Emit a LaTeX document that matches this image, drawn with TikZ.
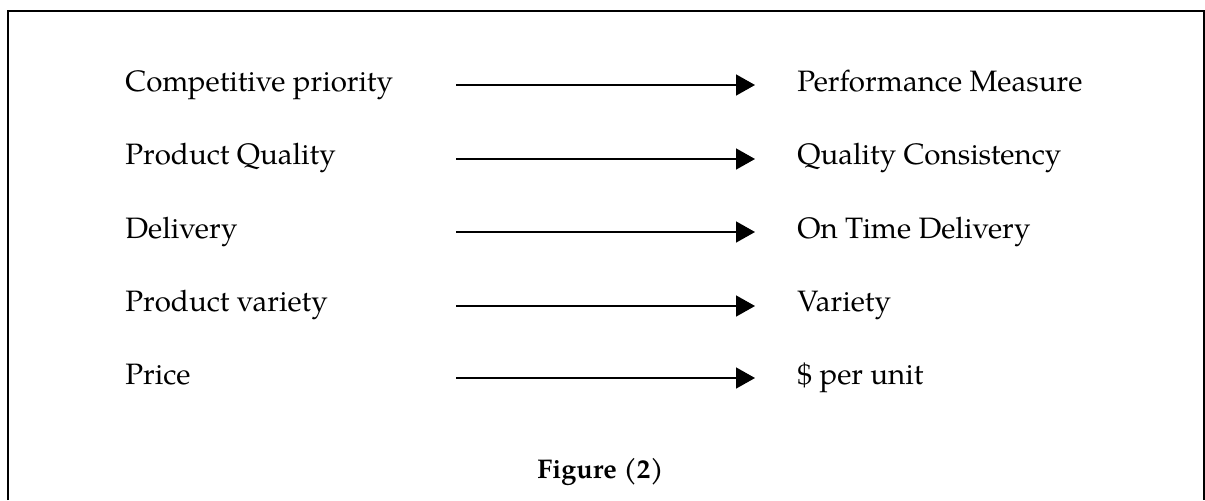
\documentclass[tikz,border=0pt]{standalone}
\usepackage{fontspec}
\setmainfont{TeX Gyre Pagella}
\usetikzlibrary{arrows.meta}

\begin{document}
\begin{tikzpicture}[x=0.5pt, y=0.5pt,
    every node/.style={inner sep=0pt, font=\fontsize{14.75}{17}\selectfont},
    item/.style={anchor=base west},
    link/.style={line width=0.8pt, -{Triangle[length=9.5pt, width=10.5pt]}}]
    \useasboundingbox (0,0) rectangle (1205,500);

    % Frame
    \draw[line width=1pt] (7.5,0) -- (7.5,489.5) -- (1203.5,489.5) -- (1203.5,0);

    % Competitive priorities
    \node[item] (p1) at (125,409) {Competitive priority};
    \node[item] (p2) at (125,335.5) {Product Quality};
    \node[item] (p3) at (125,262) {Delivery};
    \node[item] (p4) at (125,188.5) {Product variety};
    \node[item] (p5) at (125,116) {Price};

    % Performance measures
    \node[item] (m1) at (797,409) {Performance Measure};
    \node[item] (m2) at (797,335.5) {Quality Consistency};
    \node[item] (m3) at (797,262) {On Time Delivery};
    \node[item] (m4) at (797,188.5) {Variety};
    \node[item] (m5) at (797,116) {\$ per unit};

    % Arrow ends
    \coordinate (s1) at (456,415);
    \coordinate (t1) at (755,415);
    \coordinate (s2) at (456,341);
    \coordinate (t2) at (755,341);
    \coordinate (s3) at (456,268);
    \coordinate (t3) at (755,268);
    \coordinate (s4) at (456,194);
    \coordinate (t4) at (755,194);
    \coordinate (s5) at (456,122);
    \coordinate (t5) at (755,122);

    % Arrows
    \draw[link] (s1) -- (t1);
    \draw[link] (s2) -- (t2);
    \draw[link] (s3) -- (t3);
    \draw[link] (s4) -- (t4);
    \draw[link] (s5) -- (t5);

    % Caption
    \node[anchor=base, font=\fontsize{13.5}{16}\selectfont\bfseries] (cap) at (600.5,22) {Figure (2)};
\end{tikzpicture}
\end{document}
